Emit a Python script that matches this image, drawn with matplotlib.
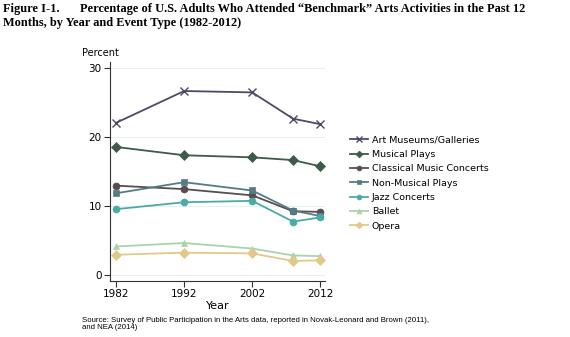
import matplotlib
matplotlib.use("Agg")
import matplotlib.pyplot as plt

years = [1982, 1992, 2002, 2008, 2012]
series_names = [
    "Art Museums/Galleries",
    "Musical Plays",
    "Classical Music Concerts",
    "Non-Musical Plays",
    "Jazz Concerts",
    "Ballet",
    "Opera",
]
art_museums = [22.1, 26.7, 26.5, 22.7, 21.9]
musical_plays = [18.6, 17.4, 17.1, 16.7, 15.8]
classical = [13.0, 12.5, 11.6, 9.3, 9.2]
non_musical = [11.9, 13.5, 12.3, 9.4, 8.6]
jazz = [9.6, 10.6, 10.8, 7.8, 8.4]
ballet = [4.2, 4.7, 3.9, 2.9, 2.8]
opera = [3.0, 3.3, 3.2, 2.1, 2.2]
y_ticks = [0, 10, 20, 30]
x_ticks = [1982, 1992, 2002, 2012]

fig_label = "Figure I-1."
title_1 = "Percentage of U.S. Adults Who Attended \u201cBenchmark\u201d Arts Activities in the Past 12"
title_2 = "Months, by Year and Event Type (1982-2012)"
source = ("Source: Survey of Public Participation in the Arts data, reported in Novak-Leonard and Brown (2011),\n"
          "and NEA (2014)")

values = [art_museums, musical_plays, classical, non_musical, jazz, ballet, opera]
colors = ["#4b4a68", "#3e5a48", "#574d4f", "#547c82", "#4aaaa6", "#a9d4ab", "#e2c98a"]
markers = ["x", "D", "o", "s", "o", "^", "D"]

W, H = 570, 337
fig = plt.figure(figsize=(5.7, 3.37), dpi=100)
ax = fig.add_axes([110 / W, (H - 281) / H, 215 / W, 219 / H])

for name, vals, c, m in zip(series_names, values, colors, markers):
    ax.plot(years, vals, color=c, marker=m, markersize=5 if m != "x" else 6,
            linewidth=1.3, label=name, markeredgewidth=1 if m == "x" else 0.5)

ax.set_xlim(1981.1, 2012.7)
ax.set_ylim(-0.8, 30.9)
ax.set_xticks(x_ticks)
ax.set_yticks(y_ticks)
ax.tick_params(labelsize=7.5, length=4, width=0.8, color="#333333", pad=2)
ax.grid(axis="y", color="#e6f0f2", linewidth=0.8)
ax.set_axisbelow(True)
for side in ["top", "right"]:
    ax.spines[side].set_visible(False)
for side in ["left", "bottom"]:
    ax.spines[side].set_color("#333333")
    ax.spines[side].set_linewidth(0.8)
ax.set_xlabel("Year", fontsize=8, labelpad=1.5)
fig.text(82 / W, 1 - 53 / H, "Percent", fontsize=7, ha="left", va="center")

ax.legend(loc="upper left", bbox_to_anchor=(350 / W, 1 - 135.5 / H), bbox_transform=fig.transFigure,
          frameon=False, fontsize=6.8, handlelength=1.9, labelspacing=0.57, handletextpad=0.4,
          markerscale=0.7, borderpad=0, borderaxespad=0)

title_kw = dict(fontsize=8.9, fontweight="bold", family="Liberation Serif", ha="left", va="center")
fig.text(3 / W, 1 - 9 / H, fig_label, **title_kw)
fig.text(80 / W, 1 - 9 / H, title_1, **title_kw)
fig.text(3 / W, 1 - 23 / H, title_2, **title_kw)
fig.text(82 / W, 1 - 317 / H, source, fontsize=5.6, family="Liberation Sans", ha="left", va="top",
         linespacing=1.0)

fig.savefig("out.png", dpi=100)
